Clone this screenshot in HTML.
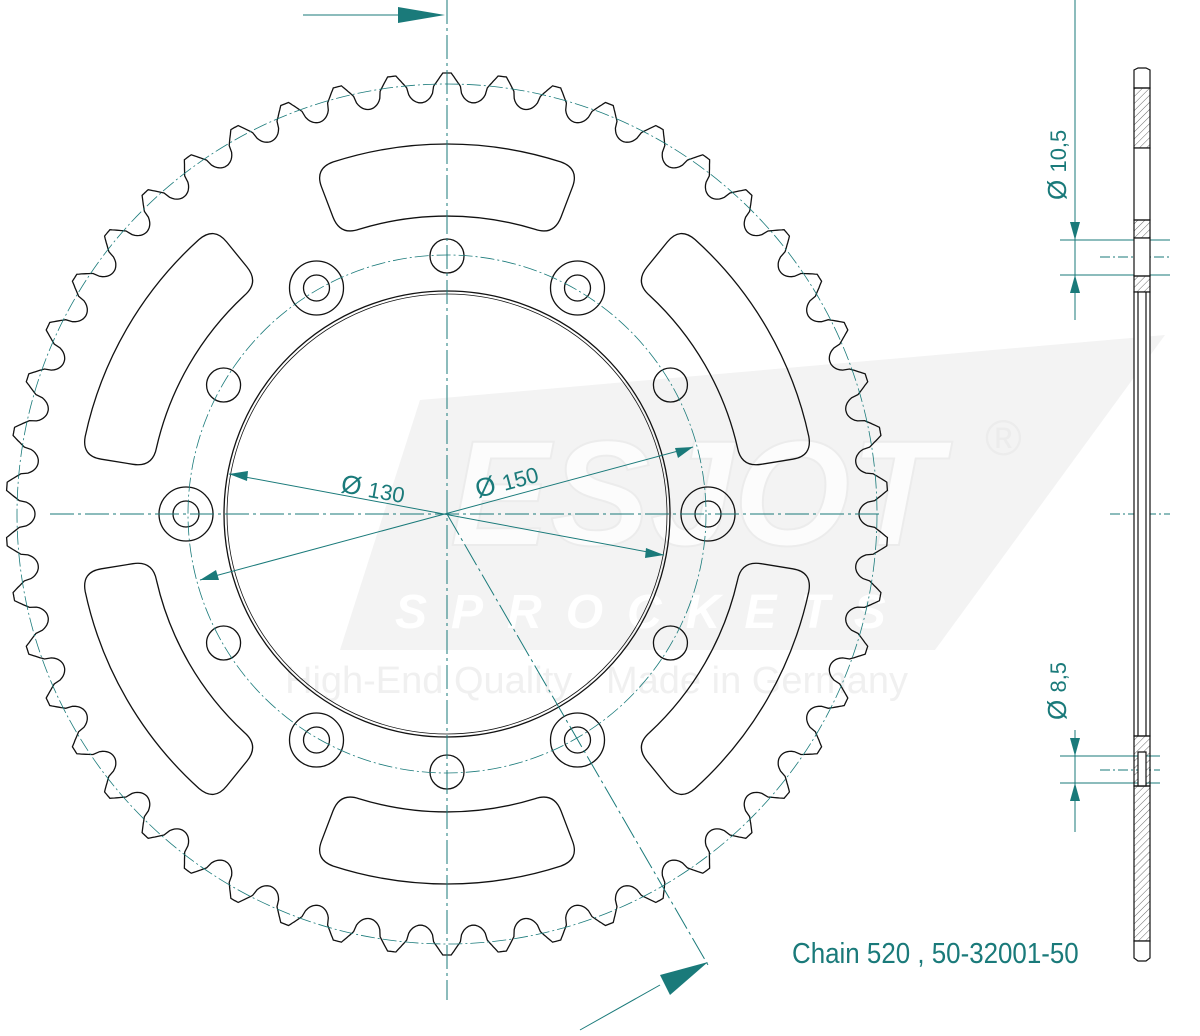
<!DOCTYPE html>
<html><head><meta charset="utf-8"><style>
html,body{margin:0;padding:0;background:#fff;width:1200px;height:1036px;overflow:hidden}
svg{display:block}
text{font-family:"Liberation Sans",sans-serif}
</style></head><body>
<svg id="s" width="1200" height="1036" viewBox="0 0 1200 1036" xmlns="http://www.w3.org/2000/svg">
<defs>
<pattern id="h" width="5" height="5" patternUnits="userSpaceOnUse" patternTransform="rotate(45)">
<line x1="0" y1="0" x2="0" y2="5" stroke="#444" stroke-width="0.8"/></pattern>
</defs>
<g fill="#f3f3f3" stroke="none">
<polygon points="420,400 1165,335 935,650 340,650"/>
</g>
<text x="450" y="545" font-size="150" font-weight="bold" font-style="italic" fill="#fcfcfc" stroke="#ececec" stroke-width="2">ESJOT</text>
<text x="985" y="455" font-size="50" fill="#ececec">®</text>
<text x="395" y="628" font-size="48" font-weight="bold" font-style="italic" fill="#fff" letter-spacing="24">SPROCKETS</text>
<text x="285" y="693" font-size="38" fill="#f0f0f0">High-End Quality · Made in Germany</text>
<g id="g" fill="none" stroke="#111" stroke-width="1.3"></g>
<g fill="none" stroke="#1a7a7a" stroke-width="1">
<circle cx="447" cy="514" r="430" stroke-dasharray="14,3,2,3" stroke-width="0.8"/>
<circle cx="447" cy="514" r="259" stroke-dasharray="14,3,2,3" stroke-width="0.8"/>
<line x1="447" y1="0" x2="447" y2="1000" stroke-dasharray="24,4,3,4"/>
<line x1="50" y1="514" x2="880" y2="514" stroke-dasharray="24,4,3,4"/>
<line x1="447" y1="514" x2="708" y2="965" stroke-dasharray="24,4,3,4"/>
<line x1="229" y1="474" x2="664" y2="555"/>
<line x1="200" y1="580" x2="693" y2="447"/>
<line x1="303" y1="15" x2="400" y2="15"/>
<line x1="580" y1="1030" x2="660" y2="985"/>
<line x1="1075" y1="0" x2="1075" y2="320"/>
<line x1="1075" y1="730" x2="1075" y2="832"/>
<line x1="1060" y1="240" x2="1170" y2="240"/><line x1="1060" y1="275" x2="1170" y2="275"/>
<line x1="1060" y1="756" x2="1160" y2="756"/><line x1="1060" y1="783" x2="1160" y2="783"/>
<line x1="1100" y1="257" x2="1170" y2="257" stroke-dasharray="10,3,2,3"/>
<line x1="1100" y1="770" x2="1160" y2="770" stroke-dasharray="10,3,2,3"/>
<line x1="1110" y1="514" x2="1170" y2="514" stroke-dasharray="10,3,2,3"/>
</g>
<g fill="#1a7a7a">
<polygon points="445,15 398,7 398,23"/>
<polygon points="708,962 660,975 670,995"/>
<polygon points="229,474 248,471 247,481"/><polygon points="664,555 646,548 645,558"/>
<polygon points="200,580 216,570 219,580"/><polygon points="693,447 675,448 678,458"/>
<polygon points="1075,240 1070,222 1080,222"/><polygon points="1075,275 1070,293 1080,293"/>
<polygon points="1075,756 1070,738 1080,738"/><polygon points="1075,783 1070,801 1080,801"/>
</g>
<g fill="#1a7a7a" font-size="26">
<text transform="translate(340,492) rotate(10)">Ø <tspan font-size="22">130</tspan></text>
<text transform="translate(478,498) rotate(-15)">Ø <tspan font-size="22">150</tspan></text>
<text transform="translate(1066,200) rotate(-90)">Ø <tspan font-size="22">10,5</tspan></text>
<text transform="translate(1066,720) rotate(-90)">Ø <tspan font-size="22">8,5</tspan></text>
<text transform="translate(792,963) scale(0.96,1.05)" font-size="27">Chain 520 , 50-32001-50</text>
</g>
<g stroke="#111" stroke-width="1.2">
<path d="M1134,70 L1138,68 L1146,68 L1150,70 L1150,88 L1134,88 Z" fill="#fff"/>
<rect x="1134" y="88" width="16" height="60" fill="url(#h)"/>
<rect x="1134" y="148" width="16" height="72" fill="#fff"/>
<rect x="1134" y="220" width="16" height="18" fill="url(#h)"/>
<rect x="1134" y="238" width="16" height="38" fill="#fff"/>
<rect x="1134" y="276" width="16" height="16" fill="url(#h)"/>
<rect x="1134" y="292" width="16" height="444" fill="#fff"/>
<line x1="1138" y1="292" x2="1138" y2="736"/><line x1="1146" y1="292" x2="1146" y2="736"/>
<path d="M1134,736 L1150,736 L1150,786 L1134,786 Z" fill="url(#h)"/>
<path d="M1138,752 L1146,752 L1146,786 L1138,786 Z" fill="#fff"/>
<rect x="1134" y="786" width="16" height="155" fill="url(#h)"/>
<path d="M1134,941 L1150,941 L1150,958 L1146,961 L1138,961 L1134,958 Z" fill="#fff"/>
</g>
</svg>
<script>
(function(){
var g=document.getElementById('g'),cx=447,cy=514,NS='http://www.w3.org/2000/svg';
function el(n,a){var e=document.createElementNS(NS,n);for(var k in a)e.setAttribute(k,a[k]);g.appendChild(e);return e;}
var N=50,tip=441,root=412,pts=[];
for(var i=0;i<N*40;i++){var p=(i%40)/40,a=i/(N*40)*2*Math.PI;
 var d=Math.abs(p-0.5)*2,r;
 if(d<0.5){r=root+(tip-root)*0.55*(1-Math.sqrt(1-Math.pow(d/0.5,2)));}
 else if(d<0.85){r=root+(tip-root)*(0.55+0.45*(d-0.5)/0.35);}
 else r=tip;
 pts.push((cx+r*Math.sin(a)).toFixed(1)+','+(cy-r*Math.cos(a)).toFixed(1));}
el('polygon',{points:pts.join(' ')});
el('circle',{cx:cx,cy:cy,r:223});
el('circle',{cx:cx,cy:cy,r:220,'stroke-width':0.8});
for(var k=0;k<6;k++){var a=k*60*Math.PI/180,x=cx+261*Math.cos(a),y=cy-261*Math.sin(a);
 el('circle',{cx:x,cy:y,r:27});el('circle',{cx:x,cy:y,r:13});
 var b=(k*60+30)*Math.PI/180,x2=cx+258*Math.cos(b),y2=cy-258*Math.sin(b);
 el('circle',{cx:x2,cy:y2,r:17});
 var c=(k*60+90)*Math.PI/180,s=21*Math.PI/180,r1=298,r2=370,rc=20;
 function P(r,t){return (cx+r*Math.cos(t)).toFixed(1)+','+(cy-r*Math.sin(t)).toFixed(1);}
 var t1=c-s,t2=c+s,e1=rc/r1,e2=rc/r2;
 var d='M'+P(r2,t1+e2)+' A'+r2+','+r2+' 0 0 0 '+P(r2,t2-e2)+
  ' Q'+P(r2,t2)+' '+P(r2-rc,t2)+' L'+P(r1+rc,t2)+' Q'+P(r1,t2)+' '+P(r1,t2-e1)+
  ' A'+r1+','+r1+' 0 0 1 '+P(r1,t1+e1)+' Q'+P(r1,t1)+' '+P(r1+rc,t1)+' L'+P(r2-rc,t1)+' Q'+P(r2,t1)+' '+P(r2,t1+e2)+'Z';
 el('path',{d:d});}
})();
</script>
</body></html>
